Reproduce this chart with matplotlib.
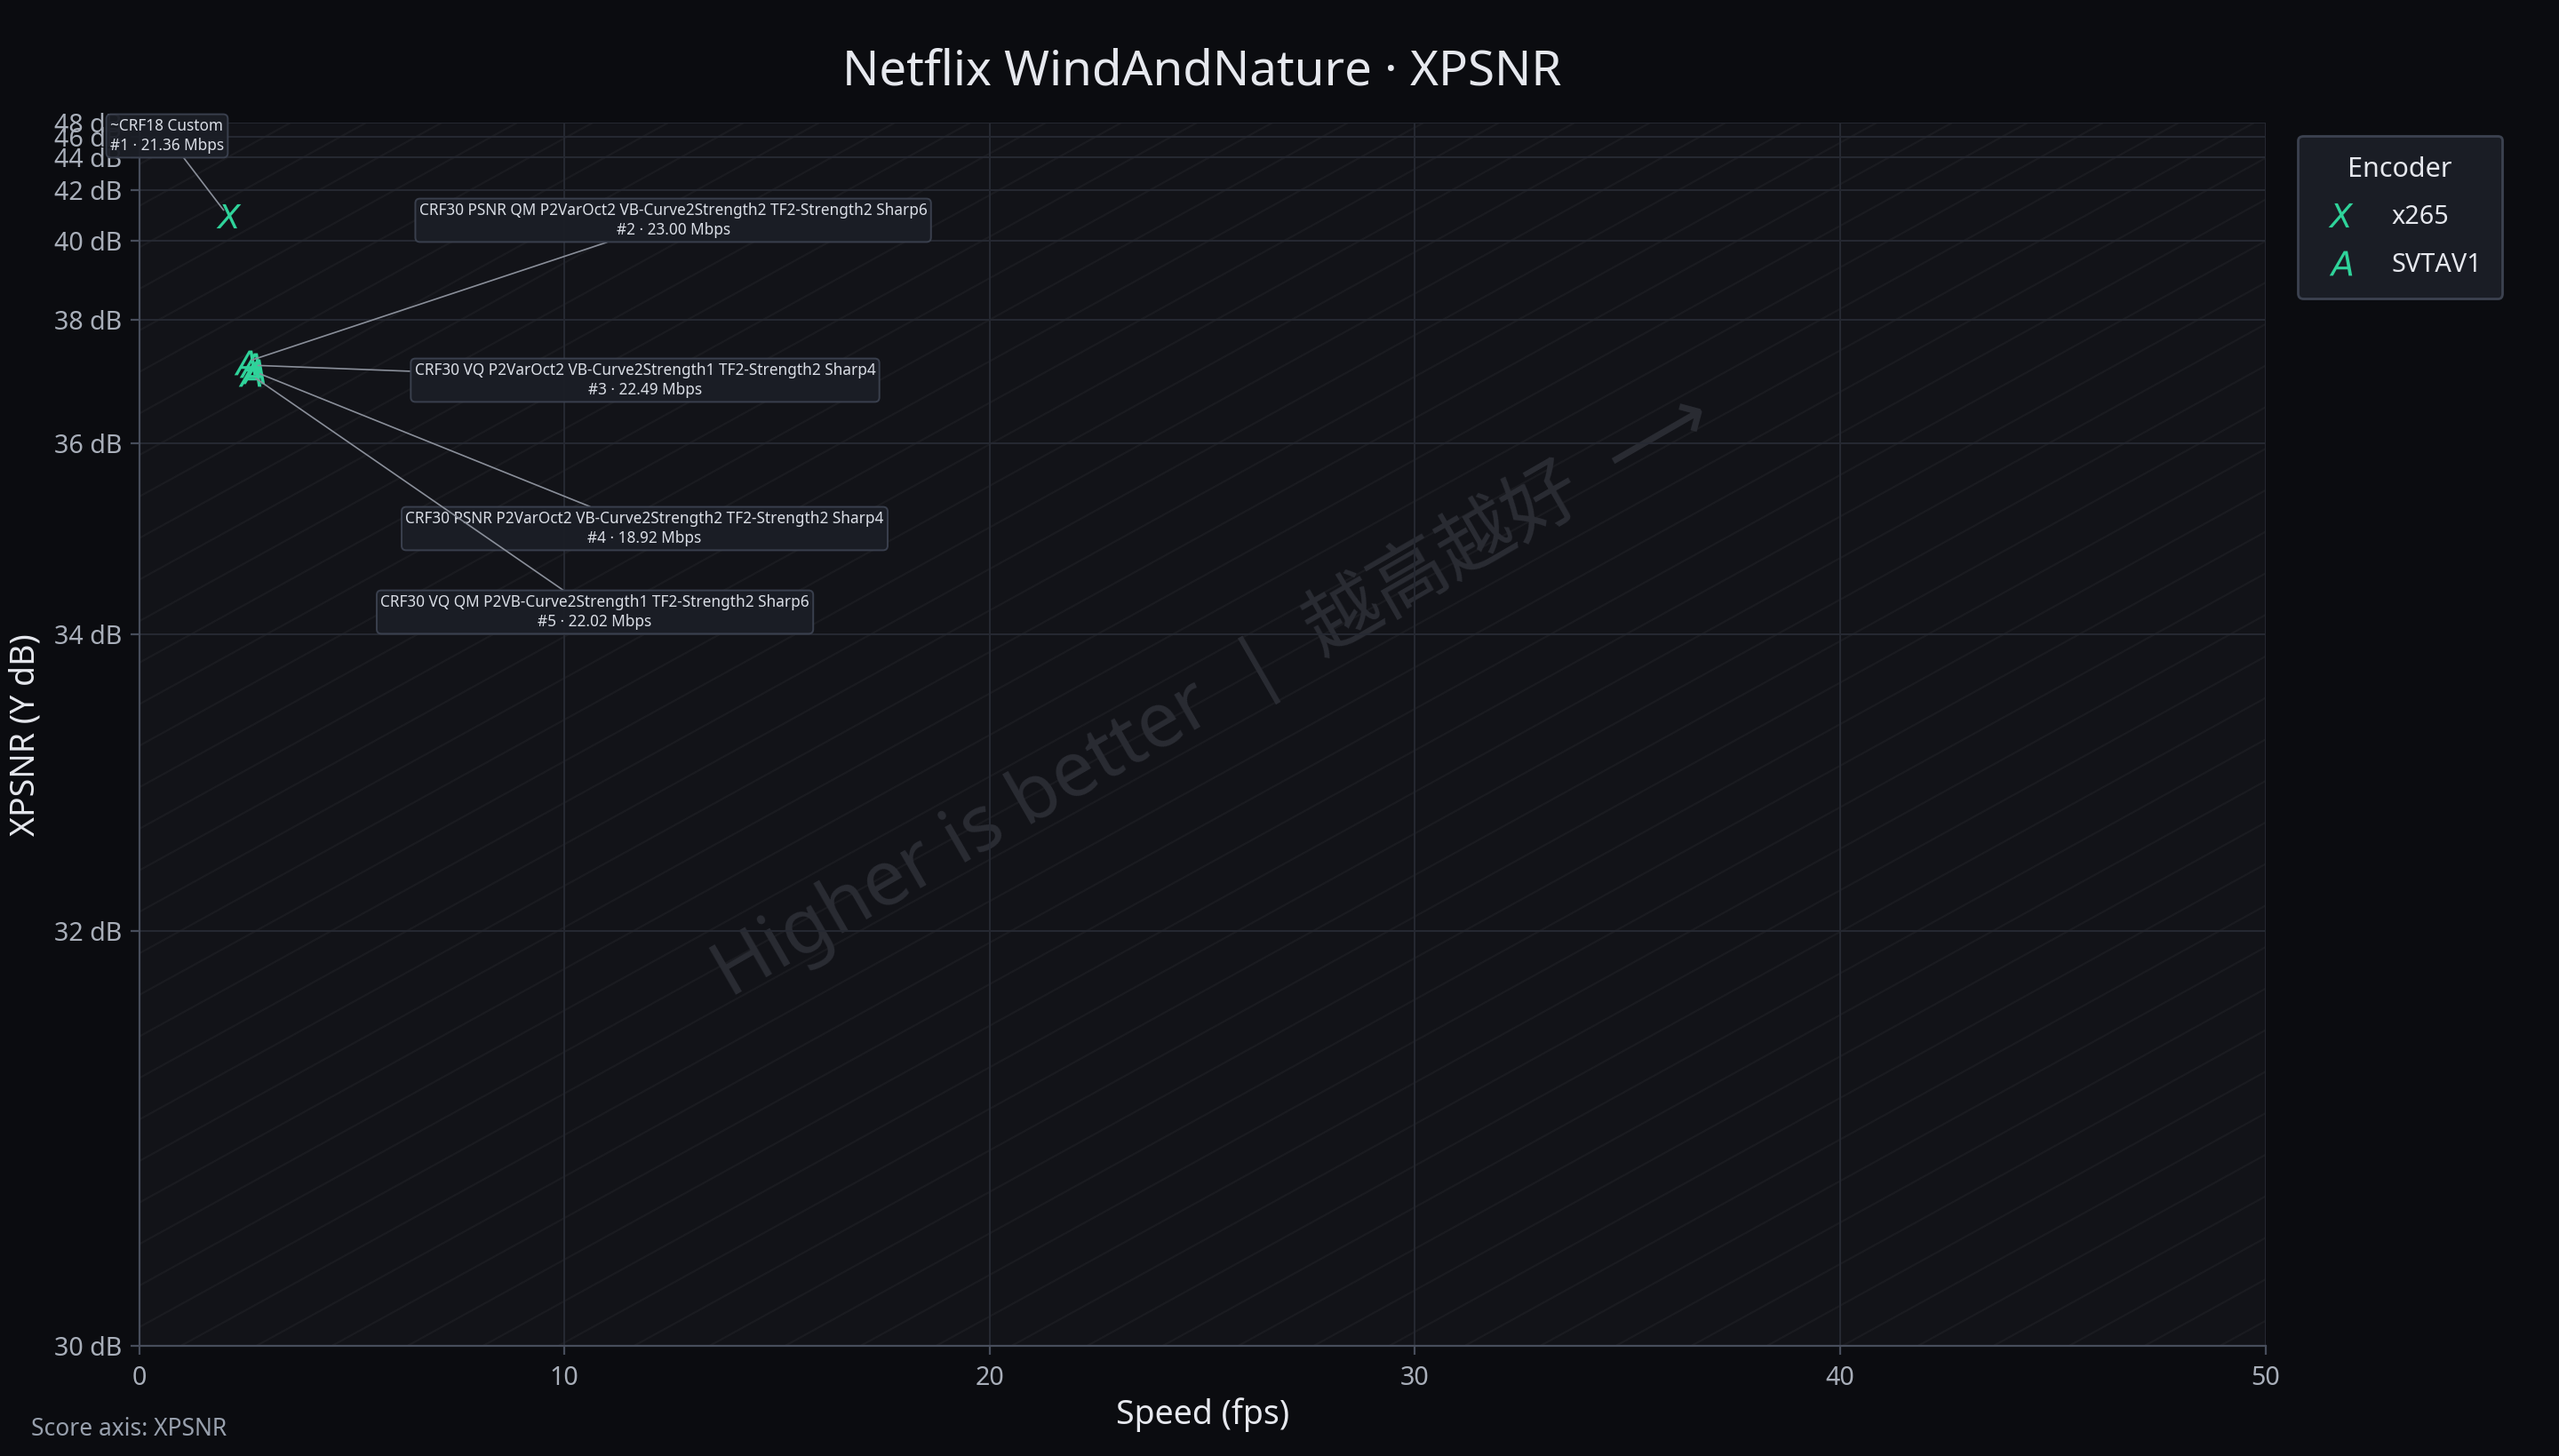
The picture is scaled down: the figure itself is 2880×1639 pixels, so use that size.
import numpy as np
import matplotlib
matplotlib.use("Agg")
import matplotlib.pyplot as plt
from matplotlib.collections import LineCollection
from matplotlib.ticker import FuncFormatter
from matplotlib.lines import Line2D

# ---------------- data ----------------
ENCODERS = ["x265", "SVTAV1", "SVTAV1", "SVTAV1", "SVTAV1"]
SPEED_FPS = [2.09, 2.49, 2.62, 2.68, 2.60]
XPSNR_DB = [40.87, 37.21, 37.16, 37.06, 37.01]
BITRATE_MBPS = [21.36, 23.00, 22.49, 18.92, 22.02]
RANKS = [1, 2, 3, 4, 5]
CONFIG_NAMES = [
    "~CRF18 Custom",
    "CRF30 PSNR QM P2VarOct2 VB-Curve2Strength2 TF2-Strength2 Sharp6",
    "CRF30 VQ P2VarOct2 VB-Curve2Strength1 TF2-Strength2 Sharp4",
    "CRF30 PSNR P2VarOct2 VB-Curve2Strength2 TF2-Strength2 Sharp4",
    "CRF30 VQ QM P2VB-Curve2Strength1 TF2-Strength2 Sharp6",
]
LEGEND_ENCODERS = ["x265", "SVTAV1"]
ENCODER_MARKERS = {"x265": "$X$", "SVTAV1": "$A$"}
X_TICKS = [0, 10, 20, 30, 40, 50]
Y_TICKS = [32, 34, 36, 38, 40, 42, 44, 46, 48]
Y_LIMITS = (30.17, 48)
X_LIMITS = (0, 50)

TITLE = "Netflix WindAndNature · XPSNR"
X_LABEL = "Speed (fps)"
Y_LABEL = "XPSNR (Y dB)"
FOOTNOTE = "Score axis: XPSNR"
WATERMARK = "Higher is better  |  越高越好  ⟶"

# label box centres (figure pixels from top-left) -- layout only
LABEL_POS = [(188, 153), (757.6, 248), (726, 428), (725.5, 595), (669.6, 689)]

# ---------------- style ----------------
FIG_BG = "#0b0c10"
AX_BG = "#121318"
GRID = "#262932"
SPINE = "#474d5b"
TEXT = "#e6e8ee"
TICK_TEXT = "#a9afba"
MARK = "#2fd39a"

W_PX, H_PX, DPI = 2880, 1639, 200
plt.rcParams["font.family"] = ["Noto Sans", "DejaVu Sans"]

fig = plt.figure(figsize=(W_PX / DPI, H_PX / DPI), dpi=DPI, facecolor=FIG_BG)
ax_rect = [156.7 / W_PX, 1 - 1515 / H_PX, (2549.5 - 156.7) / W_PX, (1515 - 138.3) / H_PX]
ax = fig.add_axes(ax_rect, facecolor=AX_BG)

K = 0.2207


def fwd(y):
    y = np.asarray(y, dtype=float)
    return -np.exp(-K * y)


def inv(u):
    u = np.asarray(u, dtype=float)
    with np.errstate(invalid="ignore", divide="ignore"):
        return -np.log(-u) / K


ax.set_yscale("function", functions=(fwd, inv))
ax.set_xlim(*X_LIMITS)
ax.set_ylim(*Y_LIMITS)
ax.set_xticks(X_TICKS)
ax.set_yticks([Y_LIMITS[0]] + Y_TICKS)
ax.yaxis.set_major_formatter(FuncFormatter(lambda v, p: f"{v:.0f} dB"))
ax.yaxis.set_minor_locator(matplotlib.ticker.NullLocator())
ax.xaxis.set_minor_locator(matplotlib.ticker.NullLocator())

ax.grid(True, color=GRID, lw=0.7, zorder=0)
ax.set_axisbelow(True)
for s in ["top", "right"]:
    ax.spines[s].set_visible(False)
for s in ["left", "bottom"]:
    ax.spines[s].set_color(SPINE)
    ax.spines[s].set_linewidth(0.8)
ax.tick_params(colors=SPINE, labelcolor=TICK_TEXT, labelsize=10.3, length=3.5, width=0.8)
ax.tick_params(axis="x", pad=4.5)
ax.tick_params(axis="y", pad=3.5)

# diagonal decoration lines
axW = ax_rect[2] * W_PX
axH = ax_rect[3] * H_PX
slope = 0.55
segs = []
for x0 in np.arange(-axH / slope - 85 * 2, axW + 85, 85):
    segs.append([(x0 / axW, 0), ((x0 + axH / slope) / axW, 1)])
lc = LineCollection(segs, colors="#ffffff", alpha=0.035, linewidths=0.8,
                    transform=ax.transAxes, zorder=0.2)
ax.add_collection(lc)

# watermark
ax.text(0.5045, 0.533, WATERMARK, transform=ax.transAxes, rotation=30,
        rotation_mode="anchor", ha="center", va="center", fontsize=31,
        color="#2a2c33", zorder=0.3,
        family=["Noto Sans", "Noto Sans CJK SC", "DejaVu Sans"])

# points
for enc in LEGEND_ENCODERS:
    xs = [x for x, e in zip(SPEED_FPS, ENCODERS) if e == enc]
    ys = [y for y, e in zip(XPSNR_DB, ENCODERS) if e == enc]
    ax.plot(xs, ys, linestyle="none", marker=ENCODER_MARKERS[enc], markersize=10,
            color=MARK, markeredgewidth=0, zorder=5, label=enc)

# annotations
for i, (x, y, name, r, br) in enumerate(zip(SPEED_FPS, XPSNR_DB, CONFIG_NAMES, RANKS, BITRATE_MBPS)):
    cx, cy = LABEL_POS[i]
    ax.annotate(f"{name}\n#{r} · {br:.2f} Mbps", xy=(x, y), xycoords="data",
                xytext=(cx, H_PX - cy), textcoords="figure pixels",
                ha="center", va="center", fontsize=6.2, color="#dadee6",
                linespacing=1.3,
                bbox=dict(boxstyle="round,pad=0.25,rounding_size=0.3", fc="#1b1e26",
                          ec="#3c4250", lw=0.7, alpha=0.95),
                arrowprops=dict(arrowstyle="-", color="#8a8f9a", lw=0.6,
                                shrinkA=0, shrinkB=3),
                annotation_clip=False, zorder=6)

# labels
ax.set_xlabel(X_LABEL, fontsize=13.5, color=TEXT, va="center")
ax.xaxis.set_label_coords(0.5, (H_PX - 1593 - (H_PX - 1515)) / axH)
ax.set_ylabel(Y_LABEL, fontsize=13.5, color=TEXT, va="center")
ax.yaxis.set_label_coords((29 - 156.7) / axW, 0.5)

fig.text((156.7 + 2549.5) / 2 / W_PX, 1 - 81 / H_PX, TITLE, ha="center", va="center",
         fontsize=19.7, color=TEXT)
fig.text(35 / W_PX, 1 - 1609 / H_PX, FOOTNOTE, ha="left", va="center",
         fontsize=9.5, color="#98a0ad")

# legend
handles = [Line2D([], [], linestyle="none", marker=ENCODER_MARKERS[e], markersize=10,
                  color=MARK, markeredgewidth=0) for e in LEGEND_ENCODERS]
leg = fig.legend(handles, LEGEND_ENCODERS, title="Encoder", loc="upper left",
                 bbox_to_anchor=(2586 / W_PX, 1 - 152.5 / H_PX), fontsize=10.4,
                 title_fontsize=11, frameon=True, facecolor="#1a1d25",
                 edgecolor="#3c4250", framealpha=1, borderpad=0.8,
                 labelspacing=0.85, handletextpad=1.15, handlelength=1.7,
                 borderaxespad=0, fancybox=True)
leg.get_frame().set_linewidth(1.0)
leg.get_title().set_color(TEXT)
for t in leg.get_texts():
    t.set_color(TEXT)

fig.savefig("out.png", dpi=DPI, facecolor=FIG_BG)
